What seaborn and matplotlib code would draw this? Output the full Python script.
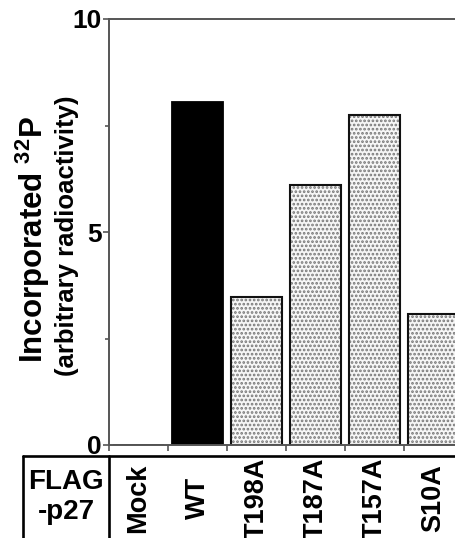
import numpy as np
import pandas as pd
import matplotlib
matplotlib.use('Agg')
import matplotlib.pyplot as plt
import matplotlib.transforms as mtransforms
from matplotlib.lines import Line2D
from matplotlib.patches import Rectangle
import seaborn as sns

# values
mutants = ['Mock', 'WT', 'T198A', 'T187A', 'T157A', 'S10A']
incorporated = [0.0, 8.06, 3.47, 6.10, 7.75, 3.07]
bar_colors = {'Mock': 'white', 'WT': 'black', 'T198A': '#f6f6f6',
              'T187A': '#f6f6f6', 'T157A': '#f6f6f6', 'S10A': '#f6f6f6'}
yticks = [0, 5, 10]
row_label = 'FLAG\n-p27'

sns.set_theme(style='white')
plt.rcParams['font.family'] = ['Liberation Sans', 'DejaVu Sans']
plt.rcParams['font.weight'] = 'bold'
plt.rcParams['text.color'] = 'black'
plt.rcParams['ytick.labelcolor'] = 'black'
plt.rcParams['mathtext.fontset'] = 'custom'
plt.rcParams['mathtext.rm'] = 'Liberation Sans:bold'
plt.rcParams['mathtext.bf'] = 'Liberation Sans:bold'
plt.rcParams['hatch.linewidth'] = 1.3

df = pd.DataFrame({'mutant': mutants, 'value': incorporated})

W, H = 456, 538
fig = plt.figure(figsize=(W / 100, H / 100), dpi=100)
ax = fig.add_axes([109 / W, (H - 445) / H, (463 - 109) / W, (445 - 19) / H])

sns.barplot(data=df, x='mutant', y='value', hue='mutant', palette=bar_colors,
            width=0.85, edgecolor='black', linewidth=1.3, legend=False,
            saturation=1, ax=ax)

# dotted bars: grey dots from the hatch, black outline drawn on top
for p, m in zip(list(ax.patches), mutants):
    if bar_colors[m] == '#f6f6f6':
        p.set_hatch('....')
        p.set_edgecolor('#777777')
        p.set_linewidth(0)
        ax.add_patch(Rectangle((p.get_x(), p.get_y()), p.get_width(),
                               p.get_height(), fill=False,
                               edgecolor='#111111', linewidth=1.5))

ax.set_xlim(-0.5, 5.5)
ax.set_ylim(0, 10)
ax.set_xlabel('')
ax.set_ylabel('')

for side in ['left', 'top', 'bottom']:
    ax.spines[side].set_color('#555555')
    ax.spines[side].set_linewidth(1.4)
ax.spines['right'].set_visible(False)

ax.set_yticks(yticks)
ax.set_yticklabels([str(t) for t in yticks], fontsize=19, fontweight='bold',
                   color='black')
ax.set_yticks([2.5, 7.5], minor=True)
ax.set_xticks(np.arange(-0.5, 5.6, 1.0))
ax.set_xticklabels([])
ax.tick_params(axis='both', which='both', direction='out', color='#555555',
               width=1.2, length=4, left=True, bottom=True, pad=1)
ax.tick_params(axis='y', which='minor', length=3)

# y label, two lines
fig.text(33 / W, 1 - 240 / H, r'Incorporated $^{32}$P', rotation=90,
         ha='center', va='center', fontsize=22.5, fontweight='bold')
fig.text(67 / W, 1 - 236 / H, '(arbitrary radioactivity)', rotation=90,
         ha='center', va='center', fontsize=18.5, fontweight='bold')

# table under the axis
top = 1 - 456 / H
lx, dx = 23 / W, 109 / W
for xs, ys in [([lx, 1.05], [top, top]), ([lx, lx], [top, -0.01]),
               ([dx, dx], [top, -0.01])]:
    fig.add_artist(Line2D(xs, ys, color='black', linewidth=1.9,
                          transform=fig.transFigure))

fig.text((lx + dx) / 2, 1 - 497 / H, row_label, ha='center', va='center',
         fontsize=20, fontweight='bold', linespacing=1.2)

trans = mtransforms.blended_transform_factory(ax.transData, fig.transFigure)
for i, m in enumerate(mutants):
    ax.text(i, 1 - 498 / H, m, rotation=90, ha='center', va='center',
            fontsize=19.5, fontweight='bold', transform=trans, clip_on=False)

fig.savefig('out.png', dpi=100)
